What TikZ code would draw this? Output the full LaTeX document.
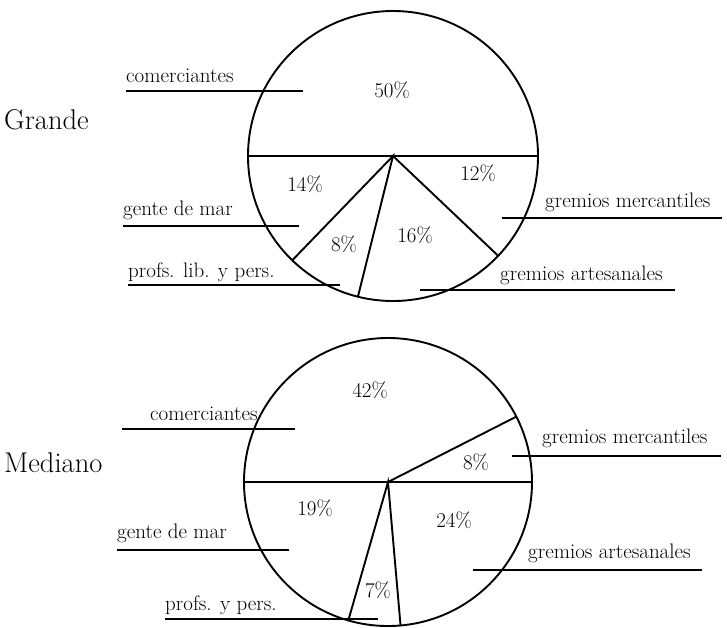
\documentclass[tikz,border=0pt]{standalone}
\usetikzlibrary{calc}
\begin{document}
\begin{tikzpicture}[x=1pt,y=-1pt,
  pie/.style={line width=1.9pt},
  uline/.style={line width=1.4pt},
  lab/.style={font=\fontsize{21}{25}\selectfont, anchor=base west, inner sep=0pt},
  pct/.style={font=\fontsize{21}{25}\selectfont, inner sep=0pt},
  title/.style={font=\fontsize{28.5}{32}\selectfont, anchor=base west, inner sep=0pt}]
\useasboundingbox (0,0) rectangle (727,627);
% ---------- Grande ----------
\coordinate (c1) at (393,156);
\draw[pie] (c1) circle[radius=145pt];
\draw[pie] ($(c1)+(180:145pt)$) -- ($(c1)+(0:145pt)$);
\draw[pie] ($(c1)+(226:145pt)$) -- (c1) -- ($(c1)+(256:145pt)$);
\draw[pie] (c1) -- ($(c1)+(316.5:145pt)$);
\node[title] (grande) at (4,129) {Grande};
\node[lab] (com1) at (126,82) {comerciantes};
\node[lab] (gen1) at (123,215) {gente de mar};
\node[lab] (pro1) at (128,277) {profs. lib. y pers.};
\node[lab] (mer1) at (545,207) {gremios mercantiles};
\node[lab] (art1) at (500,280) {gremios artesanales};
\draw[uline] (126,91) -- (303,91);
\draw[uline] (123,226) -- (299,226);
\draw[uline] (128,285) -- (340,285);
\draw[uline] (502,218) -- (722,218);
\draw[uline] (420,290) -- (675,290);
\node[pct] (p50) at (392,90) {50\%};
\node[pct] (p14) at (305,184) {14\%};
\node[pct] (p8a) at (344,244) {8\%};
\node[pct] (p16) at (415,235) {16\%};
\node[pct] (p12) at (478,173) {12\%};
% ---------- Mediano ----------
\coordinate (c2) at (388,482);
\draw[pie] (c2) circle[radius=144pt];
\draw[pie] ($(c2)+(180:144pt)$) -- ($(c2)+(0:144pt)$);
\draw[pie] ($(c2)+(27:144pt)$) -- (c2);
\draw[pie] ($(c2)+(254:144pt)$) -- (c2) -- ($(c2)+(275:144pt)$);
\node[title] (med) at (4,472) {Mediano};
\node[lab] (com2) at (150,420) {comerciantes};
\node[lab] (gen2) at (117,538) {gente de mar};
\node[lab] (pro2) at (165,610) {profs. y pers.};
\node[lab] (mer2) at (542,443) {gremios mercantiles};
\node[lab] (art2) at (528,558) {gremios artesanales};
\draw[uline] (122,429) -- (295,429);
\draw[uline] (117,550) -- (289,550);
\draw[uline] (165,619) -- (378,619);
\draw[uline] (512,456) -- (721,456);
\draw[uline] (473,570) -- (702,570);
\node[pct] (p42) at (370,390) {42\%};
\node[pct] (p8b) at (476,462) {8\%};
\node[pct] (p19) at (315,508) {19\%};
\node[pct] (p24) at (454,520) {24\%};
\node[pct] (p7) at (378,590) {7\%};
\end{tikzpicture}
\end{document}
